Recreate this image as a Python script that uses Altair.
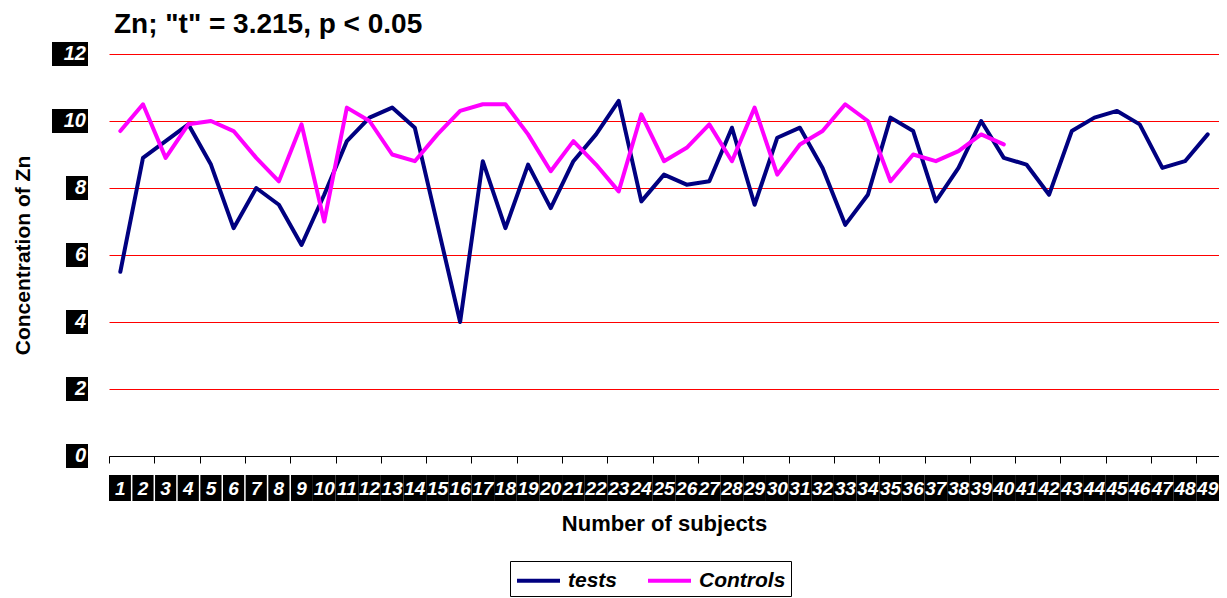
import altair as alt
import pandas as pd

# ---------------- data ----------------
subjects = list(range(1, 50))
tests = [5.5, 8.9, 9.4, 9.9, 8.7, 6.8, 8.0, 7.5, 6.3, 7.8,
         9.4, 10.1, 10.4, 9.8, 6.9, 4.0, 8.8, 6.8, 8.7, 7.4,
         8.8, 9.6, 10.6, 7.6, 8.4, 8.1, 8.2, 9.8, 7.5, 9.5,
         9.8, 8.6, 6.9, 7.8, 10.1, 9.7, 7.6, 8.6, 10.0, 8.9,
         8.7, 7.8, 9.7, 10.1, 10.3, 9.9, 8.6, 8.8, 9.6]
controls = [9.7, 10.5, 8.9, 9.9, 10.0, 9.7, 8.9, 8.2, 9.9, 7.0,
            10.4, 10.0, 9.0, 8.8, 9.6, 10.3, 10.5, 10.5, 9.6, 8.5,
            9.4, 8.7, 7.9, 10.2, 8.8, 9.2, 9.9, 8.8, 10.4, 8.4,
            9.3, 9.7, 10.5, 10.0, 8.2, 9.0, 8.8, 9.1, 9.6, 9.3]
series_names = ["tests", "Controls"]
series_colors = ["#000080", "#FF00FF"]
y_ticks = [0, 2, 4, 6, 8, 10, 12]
title_text = 'Zn; "t" = 3.215, p < 0.05'
x_title = "Number of subjects"
y_title = "Concentration of Zn"

rows = [{"subject": s, "value": v, "series": series_names[0]} for s, v in zip(subjects, tests)]
rows += [{"subject": s, "value": v, "series": series_names[1]} for s, v in zip(subjects, controls)]
df = pd.DataFrame(rows)
df_y = pd.DataFrame({"value": y_ticks, "label": [str(t) for t in y_ticks]})
df_x = pd.DataFrame({"subject": subjects, "label": [str(s) for s in subjects]})
df_sep = pd.DataFrame({"subject": [s + 0.5 for s in subjects if s < 9]})

# ---------------- style ----------------
W, H = 1110, 402
FONT = "Liberation Sans"

x_scale = alt.Scale(domain=[subjects[0] - 0.5, subjects[-1] + 0.5], nice=False, zero=False)
y_scale = alt.Scale(domain=[y_ticks[0], y_ticks[-1]], nice=False, zero=False)
boundaries = [s - 0.5 for s in subjects] + [subjects[-1] + 0.5]

lines = alt.Chart(df).mark_line(strokeWidth=4, strokeJoin="round", strokeCap="round").encode(
    x=alt.X("subject:Q", scale=x_scale,
            axis=alt.Axis(values=boundaries, labels=False, grid=False, ticks=True, tickSize=7,
                          tickColor="black", tickWidth=1, domainColor="black", domainWidth=1,
                          title=x_title, titleFont=FONT, titleFontSize=22, titleFontWeight="bold",
                          titleColor="black", titlePadding=50, zindex=1)),
    y=alt.Y("value:Q", scale=y_scale,
            axis=alt.Axis(values=y_ticks, labels=False, ticks=False, domain=False, grid=True,
                          gridColor="#FF0000", gridWidth=1, gridOpacity=1, title=y_title,
                          titleFont=FONT, titleFontSize=21, titleFontWeight="bold",
                          titleColor="black", titlePadding=76)),
    color=alt.Color("series:N", scale=alt.Scale(domain=series_names, range=series_colors),
                    legend=alt.Legend(title=None, orient="none", legendX=401, legendY=507,
                                      direction="horizontal", strokeColor="black", fillColor="white",
                                      padding=5, symbolType="M-1,0L2.44,0", symbolStrokeWidth=4,
                                      symbolSize=625, labelFont=FONT, labelFontSize=21,
                                      labelFontWeight="bold", labelFontStyle="italic",
                                      labelColor="black", labelOffset=24, columnPadding=22,
                                      cornerRadius=0)),
)

# y-axis labels: white bold italic on black boxes
box1 = alt.Chart(df_y).transform_filter("length(datum.label) == 1").mark_point(
    shape="M-0.917,-1L0.917,-1L0.917,1L-0.917,1Z", filled=True, color="black", opacity=1, size=576
).encode(x=alt.value(-32), y=alt.Y("value:Q", scale=y_scale))
box2 = alt.Chart(df_y).transform_filter("length(datum.label) == 2").mark_point(
    shape="M-1.5,-1L1.5,-1L1.5,1L-1.5,1Z", filled=True, color="black", opacity=1, size=576
).encode(x=alt.value(-39), y=alt.Y("value:Q", scale=y_scale))
ytext = alt.Chart(df_y).mark_text(
    align="right", baseline="middle", color="white", font=FONT, fontSize=20,
    fontWeight="bold", fontStyle="italic"
).encode(x=alt.value(-23), y=alt.Y("value:Q", scale=y_scale), text="label:N")

# x-axis labels: white bold italic on black band
xbox = alt.Chart(df_x).transform_calculate(
    lo="datum.subject - 0.5", hi="datum.subject + 0.5"
).mark_rect(color="black").encode(
    x=alt.X("lo:Q", scale=x_scale), x2="hi:Q",
    y=alt.value(H + 19), y2=alt.value(H + 45))
xsep = alt.Chart(df_sep).mark_rule(color="white", strokeWidth=1.5).encode(
    x=alt.X("subject:Q", scale=x_scale), y=alt.value(H + 19), y2=alt.value(H + 45))
xtext = alt.Chart(df_x).mark_text(
    align="center", baseline="middle", color="white", font=FONT, fontSize=19,
    fontWeight="bold", fontStyle="italic"
).encode(x=alt.X("subject:Q", scale=x_scale), y=alt.value(H + 33), text="label:N")

chart = alt.layer(lines, box1, box2, ytext, xbox, xsep, xtext).properties(
    width=W, height=H,
    padding={"left": 4, "top": 3, "right": 0, "bottom": 0},
    background="white",
    title=alt.TitleParams(text=title_text, anchor="start", frame="group", dx=5, offset=3,
                          font=FONT, fontSize=28, fontWeight="bold", color="black"),
).configure_view(stroke=None)

chart.save("out.html", embed_options={"renderer": "svg", "actions": False})
